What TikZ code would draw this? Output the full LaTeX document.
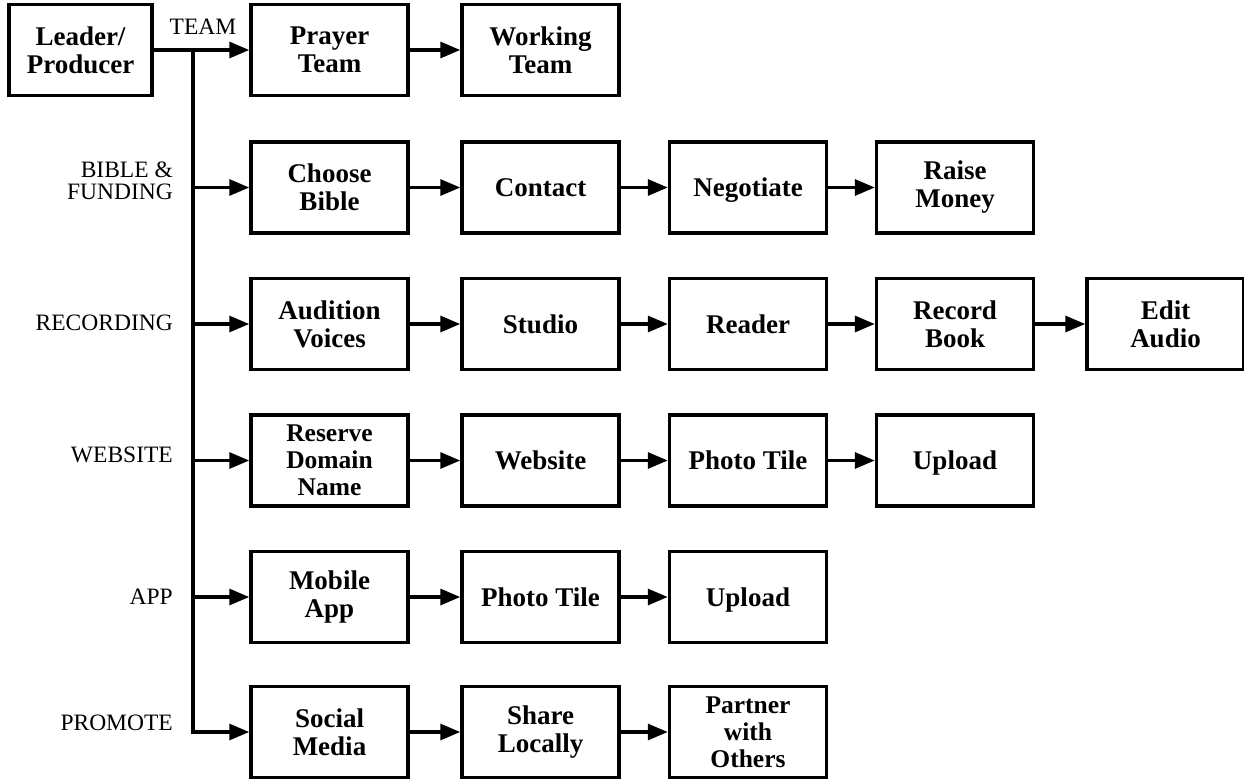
\documentclass[tikz,border=0pt]{standalone}
\usepackage{fontspec}
\setmainfont{Liberation Serif}
\usepackage{tikz}
\usetikzlibrary{arrows.meta}

\begin{document}
\begin{tikzpicture}[x=1pt, y=-1pt,
    box/.style={draw, line width=3.5pt, minimum width=157pt, minimum height=91pt,
        inner sep=2pt, align=center, font=\bfseries\fontsize{27}{28}\selectfont},
    smallbox/.style={box, font=\bfseries\fontsize{25.5}{27}\selectfont},
    flatbox/.style={box, text depth=0pt},
    lbl/.style={inner sep=0pt, align=right, font=\fontsize{23.5}{22}\selectfont},
    link/.style={line width=3.2pt, -{Triangle[length=20pt,width=16pt]}}]
    \useasboundingbox (0,0) rectangle (1244,782);

    \node[box, minimum width=143pt] (leader) at (80.5,50) {Leader/\\Producer};

    \node[box] (prayer) at (329.5,50) {Prayer\\Team};
    \node[box] (working) at (540.5,50) {Working\\Team};

    \node[box] (choose) at (329.5,187.5) {Choose\\Bible};
    \node[box] (contact) at (540.5,187.5) {Contact};
    \node[flatbox] (negotiate) at (748,187.5) {Negotiate};
    \node[box] (money) at (955,187.5) {Raise\\Money};

    \node[box] (audition) at (329.5,324) {Audition\\Voices};
    \node[box] (studio) at (540.5,324) {Studio};
    \node[box] (reader) at (748,324) {Reader};
    \node[box] (record) at (955,324) {Record\\Book};
    \node[box] (edit) at (1165.5,324) {Edit\\Audio};

    \node[smallbox] (domain) at (329.5,460.5) {Reserve\\Domain\\Name};
    \node[box] (site) at (540.5,460.5) {Website};
    \node[box] (webtile) at (748,460.5) {Photo Tile};
    \node[flatbox] (webupload) at (955,460.5) {Upload};

    \node[box] (mobile) at (329.5,597) {Mobile\\App};
    \node[box] (apptile) at (540.5,597) {Photo Tile};
    \node[flatbox] (appupload) at (748,597) {Upload};

    \node[box] (social) at (329.5,732) {Social\\Media};
    \node[box] (share) at (540.5,732) {Share\\Locally};
    \node[smallbox] (partner) at (748,732) {Partner\\with\\Others};

    % branch labels
    \node[lbl] (team) at (203,27) {TEAM};
    \node[lbl, anchor=east] (bible) at (173,181) {BIBLE \&\\FUNDING};
    \node[lbl, anchor=east] (recording) at (173,323) {RECORDING};
    \node[lbl, anchor=east] (website) at (173,455) {WEBSITE};
    \node[lbl, anchor=east] (app) at (173,597) {APP};
    \node[lbl, anchor=east] (promote) at (173,723) {PROMOTE};

    % trunk
    \coordinate (j1) at (193,50);
    \coordinate (j2) at (193,187.5);
    \coordinate (j3) at (193,324);
    \coordinate (j4) at (193,460.5);
    \coordinate (j5) at (193,597);

    \draw[link] (leader.east) -- (prayer.west);
    \draw[link] (j1) |- (social.west);
    \draw[link] (j2) -- (choose.west);
    \draw[link] (j3) -- (audition.west);
    \draw[link] (j4) -- (domain.west);
    \draw[link] (j5) -- (mobile.west);

    \draw[link] (prayer) -- (working);
    \draw[link] (choose) -- (contact);
    \draw[link] (contact) -- (negotiate);
    \draw[link] (negotiate) -- (money);
    \draw[link] (audition) -- (studio);
    \draw[link] (studio) -- (reader);
    \draw[link] (reader) -- (record);
    \draw[link] (record) -- (edit);
    \draw[link] (domain) -- (site);
    \draw[link] (site) -- (webtile);
    \draw[link] (webtile) -- (webupload);
    \draw[link] (mobile) -- (apptile);
    \draw[link] (apptile) -- (appupload);
    \draw[link] (social) -- (share);
    \draw[link] (share) -- (partner);
\end{tikzpicture}
\end{document}
